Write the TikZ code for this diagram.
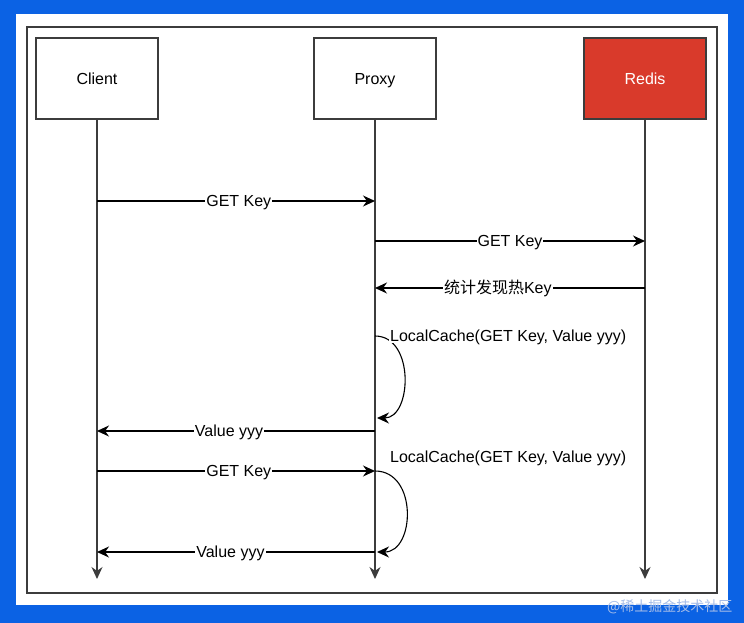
\documentclass[tikz,border=0pt]{standalone}
\usepackage{fontspec}
\setmainfont{Liberation Sans}
\newfontfamily\cjk{Noto Sans CJK SC}
\usetikzlibrary{arrows.meta, positioning, calc}

\definecolor{frameblue}{RGB}{11,98,228}
\definecolor{redisred}{RGB}{217,58,43}
\definecolor{linegray}{RGB}{60,60,60}
\definecolor{markgray}{RGB}{165,188,232}

\begin{document}
\begin{tikzpicture}[
		x=1pt, y=-1pt,
		actor/.style = {draw=linegray, line width=1.4pt, rectangle, minimum height=81pt, minimum width=122pt, inner sep=0pt, text height=11.5pt, text depth=0pt, font=\fontsize{16}{19}\selectfont},
		% Estilo para las lineas de vida y mensajes
		lifeline/.style = {draw=linegray, line width=1.2pt, -{Stealth[length=12pt, width=11pt]}},
		msg/.style = {draw=black, line width=1.1pt, -{Stealth[length=12pt, width=11pt]}},
		msglabel/.style = {fill=white, inner sep=1pt, text height=11.5pt, text depth=0pt, font=\fontsize{16}{19}\selectfont},
		]
		
		% --- FONDO Y MARCO ---
		\fill [frameblue] (0,0) rectangle (744,623);
		\fill [white] (16,14) rectangle (728,605);
		\draw [linegray, line width=1.2pt] (27,27) rectangle (717,593);
		\node [font=\fontsize{14}{16}\selectfont\cjk, text=markgray, anchor=east] (mark) at (736,607) {@稀土掘金技术社区};
		
		% --- PARTICIPANTES ---
		\node [actor] (client) at (97,78.5) {Client};
		\node [actor] (proxy)  at (375,78.5) {Proxy};
		\node [actor, fill=redisred, text=white] (redis) at (645,78.5) {Redis};
		
		% --- LINEAS DE VIDA ---
		\coordinate (client_end) at (97,579);
		\coordinate (proxy_end)  at (375,579);
		\coordinate (redis_end)  at (645,579);
		\draw [lifeline] (client.south) -- (client_end);
		\draw [lifeline] (proxy.south) -- (proxy_end);
		\draw [lifeline] (redis.south) -- (redis_end);
		
		% --- PUNTOS DE LOS MENSAJES ---
		\coordinate (c_get1) at (97,201);   \coordinate (p_get1) at (375,201);
		\coordinate (p_get2) at (375,241);  \coordinate (r_get2) at (645,241);
		\coordinate (r_hot)  at (645,288);  \coordinate (p_hot)  at (375,288);
		\coordinate (p_val1) at (375,431);  \coordinate (c_val1) at (97,431);
		\coordinate (c_get3) at (97,471);   \coordinate (p_get3) at (375,471);
		\coordinate (p_val2) at (375,552);  \coordinate (c_val2) at (97,552);
		
		% --- MENSAJES ---
		\draw [msg] (c_get1) -- node [msglabel, pos=0.51] (get1) {GET Key} (p_get1);
		\draw [msg] (p_get2) -- node [msglabel] (get2) {GET Key} (r_get2);
		\draw [msg] (r_hot) -- node [msglabel, pos=0.545] (hot) {{\cjk 统计发现热}Key} (p_hot);
		\draw [msg] (p_val1) -- node [msglabel, pos=0.525] (val1) {Value yyy} (c_val1);
		\draw [msg] (c_get3) -- node [msglabel, pos=0.51] (get3) {GET Key} (p_get3);
		\draw [msg] (p_val2) -- node [msglabel, pos=0.52] (val2) {Value yyy} (c_val2);
		
		% --- CACHE LOCAL (auto-mensajes) ---
		\coordinate (loop1_in)  at (375,336);
		\coordinate (loop1_out) at (377,418);
		\coordinate (loop2_in)  at (375,471);
		\coordinate (loop2_out) at (377,552);
		\draw [msg] (loop1_in) .. controls (415,336) and (412,418) .. (loop1_out);
		\node [msglabel, anchor=west] (cache1) at (389,336) {LocalCache(GET Key, Value yyy)};
		\draw [msg] (loop2_in) .. controls (418,471) and (415,552) .. (loop2_out);
		\node [msglabel, anchor=west] (cache2) at (389,457) {LocalCache(GET Key, Value yyy)};
		
	\end{tikzpicture}
\end{document}
